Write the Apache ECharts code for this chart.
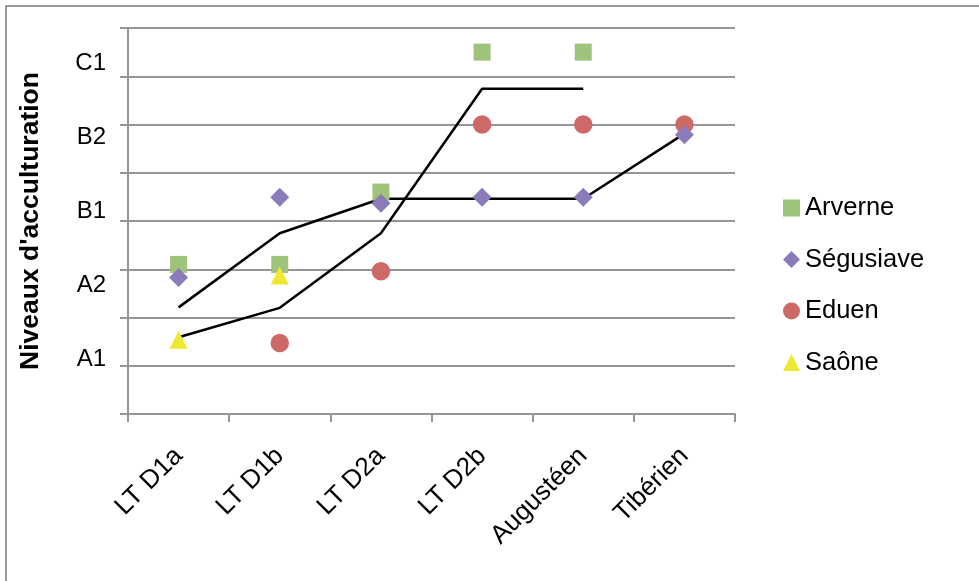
<!DOCTYPE html>
<html>
<head>
<meta charset="utf-8">
<script src="https://cdn.jsdelivr.net/npm/echarts@6/dist/echarts.min.js"></script>
<style>
html,body{margin:0;padding:0;background:#fff;}
#chart{width:979px;height:581px;}
</style>
</head>
<body>
<div id="chart"></div>
<script>
const categories = ['LT D1a', 'LT D1b', 'LT D2a', 'LT D2b', 'Augustéen', 'Tibérien'];
const levelLabels = ['A1', 'A2', 'B1', 'B2', 'C1'];
const arverne   = [3.1, 3.1, 4.6, 7.5, 7.5, null];
const segusiave = [2.83, 4.49, 4.37, 4.49, 4.49, 5.79];
const eduen     = [null, 1.47, 2.96, 6.0, 6.0, 6.0];
const saone     = [1.54, 2.87, null, null, null, null];
const trend1    = [2.21, 3.745, 4.46, 4.46, 4.46, 5.81];
const trend2    = [1.59, 2.2, 3.745, 6.74, 6.74, null];

const FONT = '"Liberation Sans", Arial, sans-serif';
const GRID = '#939598';

const chart = echarts.init(document.getElementById('chart'), null, {renderer: 'canvas'});
chart.setOption({
  animation: false,
  backgroundColor: '#ffffff',
  textStyle: {fontFamily: FONT},
  graphic: [{
    type: 'rect', silent: true, z: -10,
    shape: {x: 6, y: 6, width: 1100, height: 800},
    style: {fill: 'none', stroke: '#7a7a7a', lineWidth: 1.5}
  }],
  legend: {
    data: ['Arverne', 'Ségusiave', 'Eduen', 'Saône'],
    orient: 'vertical',
    left: 778, top: 190,
    itemWidth: 17, itemHeight: 17, itemGap: 25.5,
    textStyle: {fontSize: 25.5, color: '#000', fontFamily: FONT}
  },
  grid: [
    {left: 128, right: 244, top: 28, bottom: 167},
    {left: 128, right: 244, top: 26.3, height: 369.6}
  ],
  xAxis: [
    {
      type: 'category', gridIndex: 0, data: categories, boundaryGap: true,
      axisLine: {lineStyle: {color: GRID, width: 2}},
      axisTick: {show: true, length: 8, lineStyle: {color: GRID, width: 2}},
      axisLabel: {rotate: 45, fontSize: 26, color: '#000', margin: 38, fontFamily: FONT},
      splitLine: {show: false}
    },
    {type: 'category', gridIndex: 1, show: false, data: categories}
  ],
  yAxis: [
    {
      type: 'value', gridIndex: 0, min: 0, max: 8, interval: 1,
      name: "Niveaux d'acculturation", nameLocation: 'middle', nameRotate: 90, nameGap: 84,
      nameTextStyle: {fontSize: 26.5, fontWeight: 'bold', color: '#000', fontFamily: FONT},
      axisLine: {show: true, lineStyle: {color: GRID, width: 2}},
      axisTick: {show: true, length: 8, lineStyle: {color: GRID, width: 2}},
      axisLabel: {show: false},
      splitLine: {show: true, lineStyle: {color: GRID, width: 2}}
    },
    {
      type: 'category', gridIndex: 1, data: levelLabels,
      axisLine: {show: false}, axisTick: {show: false}, splitLine: {show: false},
      axisLabel: {fontSize: 24, color: '#000', margin: 22, fontFamily: FONT}
    }
  ],
  series: [
    {name: 'Tendance 1', type: 'line', data: trend1, symbol: 'none', z: 1,
     lineStyle: {color: '#000', width: 2.5}, itemStyle: {color: '#000'}},
    {name: 'Tendance 2', type: 'line', data: trend2, symbol: 'none', z: 1,
     lineStyle: {color: '#000', width: 2.5}, itemStyle: {color: '#000'}},
    {name: 'Arverne', type: 'scatter', data: arverne, symbol: 'rect', symbolSize: 17, z: 2,
     itemStyle: {color: '#9dc47a', opacity: 1}},
    {name: 'Eduen', type: 'scatter', data: eduen, symbol: 'circle', symbolSize: 18.5, z: 3,
     itemStyle: {color: '#cd6966', opacity: 1}},
    {name: 'Ségusiave', type: 'scatter', data: segusiave, symbol: 'diamond', symbolSize: 19, z: 4,
     itemStyle: {color: '#8b7bbb', opacity: 1}},
    {name: 'Saône', type: 'scatter', data: saone, symbol: 'triangle', symbolSize: 18, z: 5,
     itemStyle: {color: '#efe832', opacity: 1}}
  ]
});
</script>
</body>
</html>
